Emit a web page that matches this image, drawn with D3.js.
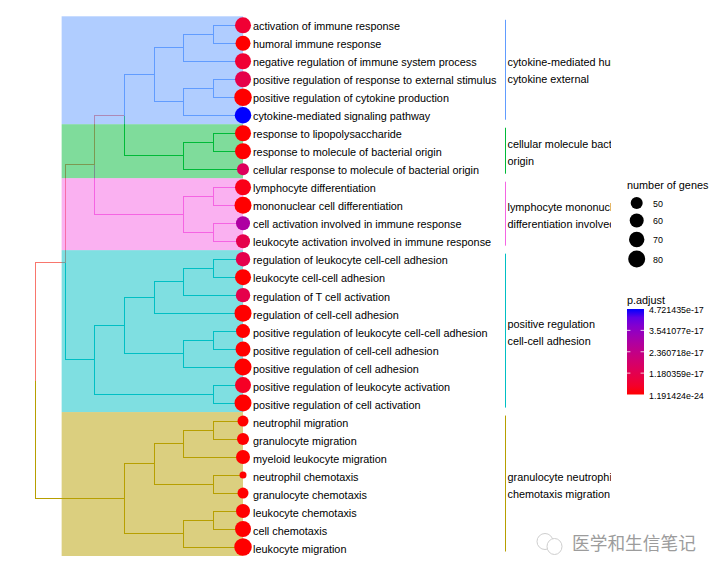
<!DOCTYPE html>
<html>
<head>
<meta charset="utf-8">
<script src="https://cdn.jsdelivr.net/npm/d3@7"></script>
<style>
html,body{margin:0;padding:0;background:#fff}
svg{display:block}
text{font-family:"Liberation Sans",Arial,sans-serif;fill:#000}
</style>
</head>
<body>
<svg id="chart" width="720" height="576"></svg>
<script>
const terms = [
  "activation of immune response","humoral immune response","negative regulation of immune system process",
  "positive regulation of response to external stimulus","positive regulation of cytokine production","cytokine-mediated signaling pathway",
  "response to lipopolysaccharide","response to molecule of bacterial origin","cellular response to molecule of bacterial origin",
  "lymphocyte differentiation","mononuclear cell differentiation","cell activation involved in immune response","leukocyte activation involved in immune response",
  "regulation of leukocyte cell-cell adhesion","leukocyte cell-cell adhesion","regulation of T cell activation","regulation of cell-cell adhesion",
  "positive regulation of leukocyte cell-cell adhesion","positive regulation of cell-cell adhesion","positive regulation of cell adhesion","positive regulation of leukocyte activation","positive regulation of cell activation",
  "neutrophil migration","granulocyte migration","myeloid leukocyte migration","neutrophil chemotaxis","granulocyte chemotaxis","leukocyte chemotaxis","cell chemotaxis","leukocyte migration"
];
const geneCounts = [74,67,74,74,83,77,74,74,50,74,80,60,60,63,74,63,80,60,67,80,74,80,46,50,60,30,46,60,74,83];
const pAdjust = [6.5e-18,1e-20,6.5e-18,1.1e-17,1e-20,4.72e-17,1e-20,1e-20,1.4e-17,2e-18,1e-20,2.9e-17,1.1e-17,1.1e-17,1e-20,1.1e-17,1e-20,1e-20,1e-20,1e-20,4e-18,1e-20,1e-20,1e-20,1e-20,1e-20,1e-20,1e-20,1e-20,1e-20];
const clusterNames = ["A","B","C","D","E"];
const clusterFirst = [0,6,9,13,22];
const clusterLast = [5,8,12,21,29];
const clusterColors = ["#619CFF","#00BA38","#F564E3","#00BFC4","#B79F00"];
const rootColor = "#F8766D";
const clusterLabels = [
  ["cytokine-mediated humoral","cytokine external"],
  ["cellular molecule bacterial","origin"],
  ["lymphocyte mononuclear","differentiation involved"],
  ["positive regulation","cell-cell adhesion"],
  ["granulocyte neutrophil","chemotaxis migration"]
];
const sizeBreaks = [50,60,70,80];
const colorBreaks = [1.191424e-24,1.180359e-17,2.360718e-17,3.541077e-17,4.721435e-17];
const colorBreakLabels = ["1.191424e-24","1.180359e-17","2.360718e-17","3.541077e-17","4.721435e-17"];

// dendrogram topology: [level, cluster, ...children]; numbers are term indexes
const treeSpec = [0,null,
  [1,null,
    [2,null,
      [3,null,
        [4,"A",[5,"A",[6,"A",0,1],2],[5,"A",[6,"A",3,4],5]],
        [5,"B",[6,"B",6,7],8]],
      [5,"C",[6,"C",9,10],[6,"C",11,12]]],
    [2,"D",
      [3,"D",[4,"D",[5,"D",[6,"D",13,14],15],16],[5,"D",[6,"D",17,18],19]],
      [6,"D",20,21]]],
  [3,"E",
    [4,"E",[5,"E",[6,"E",22,23],24],[6,"E",25,26]],
    [5,"E",[6,"E",27,28],29]]
];
function toNode(s, cluster){
  if(typeof s === "number") return {level:7, leaf:s, cluster:cluster};
  return {level:s[0], cluster:s[1], children:s.slice(2).map(c=>toNode(c,s[1]))};
}

const svg = d3.select("#chart");
const x = d3.scaleLinear().domain([0,7]).range([35.5,243]);
const y = d3.scaleLinear().domain([0,29]).range([25.3,547]);
const labelY = d3.scaleLinear().domain([0,29]).range([26,549.2]);
const r = d3.scaleLinear().domain([30,50,60,70,80]).range([3.5,6,7,7.7,8.5]);
const color = d3.scaleLinear().domain([colorBreaks[0],colorBreaks[4]]).range(["#ff0000","#0000ff"]).interpolate(d3.interpolateLab);
const clusterColor = d3.scaleOrdinal(clusterNames, clusterColors).unknown(rootColor);

const root = d3.hierarchy(toNode(treeSpec,null));
root.eachAfter(n=>{
  n.py = n.children ? (n.children[0].py + n.children[n.children.length-1].py)/2 : y(n.data.leaf);
  n.px = x(n.data.level);
});
const snap = v => Math.floor(v)+0.5;

// branches: each goes from parent's point, vertical, then horizontal
svg.append("g").attr("fill","none").attr("stroke-width",1).attr("shape-rendering","crispEdges")
  .selectAll("path").data(root.descendants().slice(1)).join("path")
  .attr("d",n=>`M${snap(n.parent.px)},${snap(n.parent.py)}V${snap(n.py)}H${snap(n.px)}`)
  .attr("stroke",n=>clusterColor(n.data.cluster));

// highlight rectangles sit over the branches
svg.append("g").selectAll("rect").data(clusterNames).join("rect")
  .attr("x",x(1)-3.5).attr("width",x(7)-x(1)+3.5)
  .attr("y",(d,i)=>y(clusterFirst[i]-0.5))
  .attr("height",(d,i)=>y(clusterLast[i]+0.5)-y(clusterFirst[i]-0.5))
  .attr("fill",d=>clusterColor(d)).attr("fill-opacity",0.5);

// tips
svg.append("g").selectAll("circle").data(terms).join("circle")
  .attr("cx",x(7)).attr("cy",(d,i)=>y(i))
  .attr("r",(d,i)=>r(geneCounts[i]))
  .attr("fill",(d,i)=>color(pAdjust[i]));

svg.append("g").selectAll("text").data(terms).join("text")
  .attr("x",253).attr("y",(d,i)=>labelY(i)).attr("dy","0.36em")
  .attr("font-size",10.85).text(d=>d);

// cluster strips
const strips = svg.append("g");
strips.selectAll("line").data(clusterNames).join("line")
  .attr("x1",505.5).attr("x2",505.5)
  .attr("y1",(d,i)=>y(clusterFirst[i])-5.5)
  .attr("y2",(d,i)=>y(clusterLast[i])+4.5)
  .attr("stroke",d=>clusterColor(d)).attr("stroke-width",1);

svg.append("clipPath").attr("id","clip-strip").append("rect")
  .attr("x",500).attr("y",0).attr("width",111).attr("height",576);
const stripText = svg.append("g").attr("clip-path","url(#clip-strip)");
clusterLabels.forEach((lines,i)=>{
  const mid = (y(clusterFirst[i])+y(clusterLast[i]))/2;
  lines.forEach((t,j)=>{
    stripText.append("text").attr("x",507.5)
      .attr("y",mid+(j-0.5)*17.2-(i===0?0.8:0)+1.5).attr("dy","0.36em")
      .attr("font-size",10.85).text(t);
  });
});

// size legend
svg.append("text").attr("x",627).attr("y",189).attr("font-size",10.85).text("number of genes");
const sizeY = d3.scaleLinear().domain([50,60,70,80]).range([203,220.5,239.5,259]);
const lg = svg.append("g");
lg.selectAll("circle").data(sizeBreaks).join("circle")
  .attr("cx",636.7).attr("cy",d=>sizeY(d)).attr("r",d=>r(d)).attr("fill","#000");
lg.selectAll("text").data(sizeBreaks).join("text")
  .attr("x",653).attr("y",d=>sizeY(d)+0.5).attr("dy","0.36em").attr("font-size",8.9).text(d=>d);

// colour bar
svg.append("text").attr("x",627).attr("y",303.5).attr("font-size",10.85).text("p.adjust");
const barY = d3.scaleLinear().domain([colorBreaks[0],colorBreaks[4]]).range([394.5,309]);
const grad = svg.append("defs").append("linearGradient").attr("id","pgrad")
  .attr("x1",0).attr("x2",0).attr("y1",1).attr("y2",0);
d3.range(0,1.0001,0.1).forEach(t=>{
  grad.append("stop").attr("offset",t)
    .attr("stop-color",color(colorBreaks[0]+t*(colorBreaks[4]-colorBreaks[0])));
});
svg.append("rect").attr("x",627).attr("y",barY(colorBreaks[4]))
  .attr("width",17).attr("height",barY(colorBreaks[0])-barY(colorBreaks[4]))
  .attr("fill","url(#pgrad)");
const inner = colorBreaks.slice(1,4);
[[627,630.4],[640.6,644]].forEach(([a,b])=>{
  svg.append("g").selectAll("line").data(inner).join("line")
    .attr("x1",a).attr("x2",b).attr("y1",d=>barY(d)).attr("y2",d=>barY(d))
    .attr("stroke","#fff").attr("stroke-width",0.8);
});
svg.append("g").selectAll("text").data(colorBreaks).join("text")
  .attr("x",649).attr("y",d=>barY(d)+0.9).attr("dy","0.36em")
  .attr("font-size",8.9).text((d,i)=>colorBreakLabels[i]);

// watermark
const wm = svg.append("g").attr("fill","none").attr("stroke","#c8c8c8").attr("stroke-width",0.9);
wm.append("ellipse").attr("cx",545).attr("cy",541.5).attr("rx",8).attr("ry",8);
wm.append("ellipse").attr("cx",554.5).attr("cy",546.5).attr("rx",7.5).attr("ry",8).attr("fill","#fff");
svg.append("text").attr("x",572).attr("y",550)
  .style("font-family",'"Noto Sans CJK SC"').style("fill","#9c9c9c")
  .attr("font-size",17.7).text("医学和生信笔记");
</script>
</body>
</html>
